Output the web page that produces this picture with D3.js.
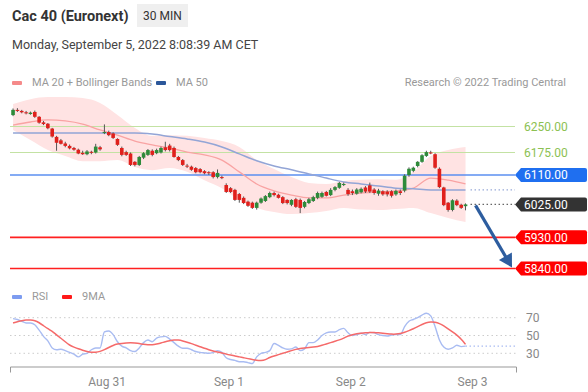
<!DOCTYPE html>
<html>
<head>
<meta charset="utf-8">
<style>
body { margin: 0; background: #fff; }
svg text { font-family: Roboto, "Liberation Sans", sans-serif; }
</style>
</head>
<body>
<script src="https://cdn.jsdelivr.net/npm/d3@7"></script>
<script>

// 30 min candles, [open, high, low, close]
var candles = [
  // Aug 30
  [6283,6302,6280,6298],[6298,6303,6292,6295],[6295,6298,6288,6291],[6291,6295,6285,6288],
  [6286,6293,6284,6290],[6292,6296,6275,6278],[6278,6280,6258,6261],[6262,6266,6254,6257],
  [6258,6260,6242,6245],[6244,6246,6218,6221],[6220,6223,6180,6203],[6210,6214,6198,6200],
  [6201,6206,6190,6194],[6194,6198,6184,6187],[6188,6191,6180,6183],[6183,6186,6170,6172],
  [6174,6180,6168,6170],[6170,6182,6167,6178],[6177,6180,6170,6174],[6175,6200,6172,6192],
  [6190,6194,6180,6184],
  // Aug 31
  [6232,6256,6228,6234],[6234,6238,6222,6225],[6230,6233,6214,6217],[6214,6216,6194,6197],
  [6188,6192,6164,6168],[6176,6180,6165,6168],[6172,6175,6136,6139],[6148,6150,6135,6139],
  [6139,6165,6136,6162],[6160,6176,6156,6173],[6168,6185,6165,6182],[6180,6184,6164,6168],
  [6173,6186,6170,6182],[6175,6192,6172,6188],[6190,6206,6178,6182],[6195,6200,6178,6182],
  [6188,6192,6160,6162],[6162,6165,6150,6153],[6153,6156,6136,6139],[6137,6142,6130,6135],
  [6134,6137,6122,6125],[6130,6133,6115,6118],[6127,6130,6115,6118],[6121,6124,6112,6115],
  [6118,6121,6110,6115],[6118,6121,6100,6104],[6104,6126,6100,6116],[6104,6108,6098,6101],
  // Sep 1
  [6081,6086,6058,6061],[6072,6075,6058,6061],[6067,6070,6035,6038],[6055,6058,6030,6038],
  [6044,6048,6026,6029],[6033,6036,6018,6021],[6030,6033,6012,6015],[6015,6033,6010,6030],
  [6030,6045,6027,6042],[6035,6052,6032,6049],[6046,6062,6043,6058],[6058,6062,6048,6052],
  [6053,6056,6042,6044],[6046,6049,6026,6029],[6038,6040,6025,6029],[6024,6040,6020,6038],
  [6040,6044,6015,6018],[6038,6042,6000,6015],[6018,6035,6014,6032],[6029,6044,6026,6040],
  [6035,6050,6032,6046],[6044,6062,6040,6058],[6047,6062,6044,6058],[6061,6064,6048,6050],
  [6052,6072,6049,6067],[6067,6078,6063,6075],[6073,6090,6070,6087],[6082,6088,6078,6084],
  // Sep 2
  [6067,6072,6050,6055],[6063,6068,6052,6058],[6056,6072,6053,6068],[6060,6074,6057,6070],
  [6074,6078,6058,6062],[6080,6088,6058,6062],[6068,6072,6053,6058],[6056,6070,6050,6065],
  [6063,6066,6050,6054],[6062,6066,6048,6054],[6063,6066,6045,6050],[6054,6068,6050,6064],
  [6063,6068,6052,6058],[6065,6112,6060,6108],[6110,6132,6105,6128],[6122,6134,6118,6131],
  [6136,6150,6132,6148],[6148,6170,6145,6167],[6165,6180,6162,6176],[6175,6180,6170,6174],
  [6170,6173,6128,6131],[6128,6132,6072,6075],[6074,6076,6020,6023],[6030,6032,6004,6009],
  [6009,6040,6005,6037],[6036,6040,6020,6023],[6024,6027,6012,6015],[6020,6028,6008,6025]
];

// indicator values, one every 4 candles
var bandIdx = [0,4,8,12,16,20,24,28,32,36,40,44,48,52,56,60,64,68,72,76,80,84,88,92,96,100,104];
var bbUpper = [6315,6329,6335,6335,6332,6318,6283,6246,6223,6225,6223,6217,6208,6191,6153,6127,6104,6087,6084,6093,6096,6098,6096,6119,6165,6182,6191];
var bbLower = [6240,6211,6182,6165,6150,6150,6153,6133,6124,6130,6119,6095,6072,6038,6015,6003,5997,6000,6006,6015,6010,6009,6012,6015,6000,5986,5974];
var ma20 = [6254,6263,6269,6266,6257,6240,6225,6208,6197,6188,6176,6168,6153,6119,6084,6064,6052,6044,6044,6052,6058,6061,6064,6072,6101,6095,6084];
var ma50 = [6231,6231,6231,6231,6231,6231,6231,6231,6228,6221,6214,6205,6191,6171,6151,6136,6125,6113,6101,6090,6084,6078,6072,6070,6067,6067,6067];

var rsi = [69,68,66,64,64,62,56,49,44,36, 34,34.5,33,31,29,26,29,30,34,36,
  36,54,55,51,43,38,36,33,32,36, 42,45,43,47,48.5,49,46,42,38,35.6,
  35.6,34,32,31,30.5,30,31,33,31,25, 23,22,20.5,20.5,19.5,18.5,26,30,31,33,
  41,39,36,34.5,35,37,33,35,42,42, 45,50,53,54,54,56.5,58,53,50,51,
  52.5,51,53.5,53,51,50,49.5,50.5,51,51, 60,66,68,70,73,75,72,60,45,37,
  34.5,36,39,37.5,38];
var rsiMA = [64,65.5,66.5,67.5,67.5,67,64.5,61,57.5,55, 50.5,47,43,39,37,35,33.5,32,31,31,
  32,34,36.5,39,40.5,41,41.5,42,41.5,41, 40,39.5,39.5,40.5,41.5,43,44,45,45,44,
  42.5,41,39,37.5,35.5,34,32.5,31.5,30.5,29, 28,27,26,25,24,23,22,21.7,22.5,25.5,
  27,28.5,30,31.5,33,34.5,35.5,36,36.5,37, 37.5,39,40.5,42,43.5,45,47,49.5,51,52,
  52.5,53,53.5,53.5,53,52.5,52,51.5,51.5,52, 53.5,55.5,57.5,60,62.5,64.5,65.5,65,63.5,61,
  57.5,54,50.5,46,40];

var dayLabels = ["Aug 31", "Sep 1", "Sep 2", "Sep 3"];
var dayTicks = [21.5, 49.5, 77.5, 105.5];
var rsiLevels = [70, 50, 30];

var resistances = [6250, 6175];
var pivot = 6110;
var lastPrice = 6025;
var supports = [5930, 5840];

var width = 588, height = 392;

var svg = d3.select("body").append("svg")
    .attr("width", width)
    .attr("height", height);

var x = d3.scaleLinear().domain([-0.7, 115.6]).range([10, 516]);
var y = d3.scaleLinear().domain([5840, 6250]).range([268.5, 126.5]);
var yr = d3.scaleLinear().domain([30, 70]).range([353.3, 317.7]);

var lineEnd = 515;

// header
svg.append("text").attr("x", 12).attr("y", 21)
    .style("font-size", "14.5px").style("font-weight", "bold").attr("fill", "#333")
    .text("Cac 40 (Euronext)");
svg.append("rect").attr("x", 137).attr("y", 4).attr("width", 51).attr("height", 23)
    .attr("fill", "#efefef");
svg.append("text").attr("x", 162.5).attr("y", 20).attr("text-anchor", "middle")
    .style("font-size", "12px").attr("fill", "#333").text("30 MIN");
svg.append("text").attr("x", 12).attr("y", 49)
    .style("font-size", "12.5px").attr("fill", "#444")
    .text("Monday, September 5, 2022 8:08:39 AM CET");

// legends
function legend(items, ly) {
  items.forEach(function(it) {
    svg.append("rect").attr("x", it[0]).attr("y", ly - 5).attr("width", 10).attr("height", 4)
        .attr("rx", 1).attr("fill", it[1]);
    svg.append("text").attr("x", it[0] + 20).attr("y", ly)
        .style("font-size", "11px").attr("fill", "#999").text(it[2]);
  });
}
legend([[12, "#f58a8a", "MA 20 + Bollinger Bands"], [156, "#2b579a", "MA 50"]], 86);
legend([[12, "#7d9cf0", "RSI"], [62, "#ff1a1a", "9MA"]], 300);

svg.append("text").attr("x", 566).attr("y", 86).attr("text-anchor", "end")
    .style("font-size", "11px").attr("fill", "#999")
    .text("Research \u00a9 2022 Trading Central");

// bollinger band
var bands = bandIdx.map(function(d, k) {
  return {i: d, up: bbUpper[k], lo: bbLower[k], m20: ma20[k], m50: ma50[k]};
});

svg.append("path").datum(bands)
    .attr("fill", "#ffe3e3")
    .attr("d", d3.area().curve(d3.curveMonotoneX)
        .x(function(d) { return x(d.i); })
        .y0(function(d) { return y(d.lo); })
        .y1(function(d) { return y(d.up); }));

// horizontal levels
resistances.forEach(function(v) {
  svg.append("line").attr("x1", 10).attr("x2", lineEnd).attr("y1", y(v)).attr("y2", y(v))
      .attr("stroke", "#c3e2a3").attr("stroke-width", 1.2);
  svg.append("text").attr("x", 524).attr("y", y(v) + 4.5)
      .style("font-size", "12px").attr("fill", "#8cc152").text(v.toFixed(2));
});

svg.append("line").attr("x1", 10).attr("x2", lineEnd).attr("y1", y(pivot)).attr("y2", y(pivot))
    .attr("stroke", "#5b8ff0").attr("stroke-width", 1.5);

supports.forEach(function(v) {
  svg.append("line").attr("x1", 10).attr("x2", lineEnd).attr("y1", y(v)).attr("y2", y(v))
      .attr("stroke", "#ff2020").attr("stroke-width", 1.6);
});

// moving averages
svg.append("path").datum(bands)
    .attr("fill", "none").attr("stroke", "#f9a3a3").attr("stroke-width", 1.3)
    .attr("d", d3.line().curve(d3.curveMonotoneX)
        .x(function(d) { return x(d.i); }).y(function(d) { return y(d.m20); }));
svg.append("path").datum(bands)
    .attr("fill", "none").attr("stroke", "#93a5d6").attr("stroke-width", 1.5)
    .attr("d", d3.line().curve(d3.curveMonotoneX)
        .x(function(d) { return x(d.i); }).y(function(d) { return y(d.m50); }));

var lastI = candles.length - 1;
svg.append("line")
    .attr("x1", x(lastI) + 5).attr("x2", lineEnd)
    .attr("y1", y(ma50[ma50.length - 1])).attr("y2", y(ma50[ma50.length - 1]))
    .attr("stroke", "#98a9d8").attr("stroke-width", 1.3).attr("stroke-dasharray", "1.5,2.5");
svg.append("line")
    .attr("x1", x(lastI) + 5).attr("x2", lineEnd)
    .attr("y1", y(lastPrice)).attr("y2", y(lastPrice))
    .attr("stroke", "#666").attr("stroke-width", 1.2).attr("stroke-dasharray", "1.5,2.5");

// candles
var candle = svg.append("g").selectAll("g")
    .data(candles).enter().append("g");

candle.append("line")
    .attr("x1", function(d, i) { return x(i); })
    .attr("x2", function(d, i) { return x(i); })
    .attr("y1", function(d) { return y(d[1]); })
    .attr("y2", function(d) { return y(d[2]); })
    .attr("stroke", "#555").attr("stroke-width", 1);

candle.append("rect")
    .attr("x", function(d, i) { return x(i) - 1.8; })
    .attr("width", 3.6)
    .attr("y", function(d) { return y(Math.max(d[0], d[3])); })
    .attr("height", function(d) { return Math.max(1, Math.abs(y(d[0]) - y(d[3]))); })
    .attr("fill", function(d) { return d[3] >= d[0] ? "#2e8b3a" : "#e0201c"; });

// price labels with pointer
function tag(v, bg) {
  var yy = y(v);
  svg.append("path")
      .attr("d", "M" + lineEnd + "," + yy + "L" + (lineEnd + 6) + "," + (yy - 7) +
                 "H585Q587," + (yy - 7) + " 587," + (yy - 5) + "V" + (yy + 5) +
                 "Q587," + (yy + 7) + " 585," + (yy + 7) + "H" + (lineEnd + 6) + "Z")
      .attr("fill", bg);
  svg.append("text").attr("x", 524).attr("y", yy + 4.5)
      .style("font-size", "12px").attr("fill", "#fff").text(v.toFixed(2));
}
tag(pivot, "#1f6ff0");
tag(lastPrice, "#333");
supports.forEach(function(v) { tag(v, "#ff0000"); });

// forecast arrow
var ax0 = x(lastI) + 10, ay0 = y(lastPrice) + 1,
    ax1 = lineEnd - 3, ay1 = y(supports[1]) - 1;
var dx = ax1 - ax0, dy = ay1 - ay0, len = Math.sqrt(dx * dx + dy * dy),
    ux = dx / len, uy = dy / len;
svg.append("line")
    .attr("x1", ax0).attr("y1", ay0)
    .attr("x2", ax1 - ux * 9).attr("y2", ay1 - uy * 9)
    .attr("stroke", "#2d5d9f").attr("stroke-width", 3.2);
svg.append("path")
    .attr("d", "M" + ax1 + "," + ay1 +
               "L" + (ax1 - ux * 13 - uy * 7.5) + "," + (ay1 - uy * 13 + ux * 7.5) +
               "L" + (ax1 - ux * 13 + uy * 7.5) + "," + (ay1 - uy * 13 - ux * 7.5) + "Z")
    .attr("fill", "#2d5d9f");

// RSI panel
rsiLevels.forEach(function(v) {
  svg.append("line").attr("x1", 10).attr("x2", 516).attr("y1", yr(v)).attr("y2", yr(v))
      .attr("stroke", "#ccc").attr("stroke-width", 1).attr("stroke-dasharray", "1.5,3");
  svg.append("text").attr("x", 526).attr("y", yr(v) + 4.5)
      .style("font-size", "12px").attr("fill", "#888").text(v);
});

svg.append("path").datum(rsi)
    .attr("fill", "none").attr("stroke", "#a9bcf2").attr("stroke-width", 1.4)
    .attr("d", d3.line().curve(d3.curveMonotoneX)
        .x(function(d, i) { return x(i); }).y(function(d) { return yr(d); }));
svg.append("line")
    .attr("x1", x(lastI)).attr("x2", 516)
    .attr("y1", yr(rsi[lastI])).attr("y2", yr(rsi[lastI]))
    .attr("stroke", "#a9bcf2").attr("stroke-width", 1.3).attr("stroke-dasharray", "1.5,2.5");
svg.append("path").datum(rsiMA)
    .attr("fill", "none").attr("stroke", "#f56a6a").attr("stroke-width", 1.5)
    .attr("d", d3.line().curve(d3.curveBasis)
        .x(function(d, i) { return x(i); }).y(function(d) { return yr(d); }));

// time axis
var axis = svg.append("g")
    .attr("transform", "translate(0,366.5)")
    .call(d3.axisBottom(x)
        .tickValues(dayTicks)
        .tickFormat(function(d, k) { return dayLabels[k]; })
        .tickSizeInner(0).tickSizeOuter(6).tickPadding(11));
axis.select(".domain").attr("stroke", "#999");
axis.selectAll("text").style("font-size", "12px").attr("fill", "#888")
    .style("font-family", "Roboto, sans-serif");

</script>
</body>
</html>
